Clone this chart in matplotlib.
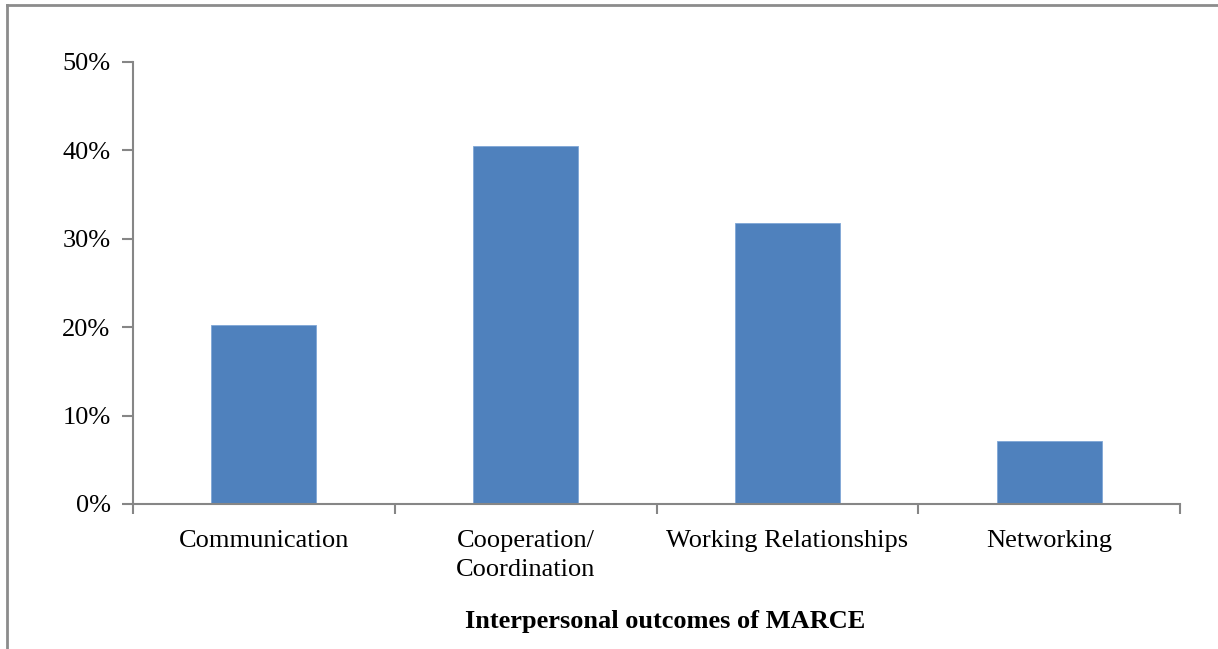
import numpy as np
from matplotlib import pyplot as plt
from matplotlib.lines import Line2D
from matplotlib.ticker import PercentFormatter, FixedLocator

plt.rcParams['font.family'] = ['Liberation Serif', 'DejaVu Serif']

categories = ['Communication', 'Cooperation/\nCoordination', 'Working Relationships', 'Networking']
shares = [20.2, 40.5, 31.8, 7.1]
yticks = [0, 10, 20, 30, 40, 50]

grey = '#868686'
fig = plt.figure(figsize=(12.18, 6.49), dpi=100)
ax = fig.add_axes([0.109, 0.2235, 0.86, 0.681])

x = np.arange(len(categories))
ax.bar(x, shares, width=0.40, color='#4F81BD', edgecolor='#7FA6D6', linewidth=0.6, zorder=2)

ax.set_xlim(-0.5, len(categories) - 0.5)
ax.set_ylim(0, 50)
ax.set_yticks(yticks)
ax.yaxis.set_major_formatter(PercentFormatter(decimals=0))
ax.tick_params(axis='y', labelsize=19, length=8, width=1.5, color=grey, pad=8)

# category labels centred under bars, ticks on the boundaries between them
ax.set_xticks(x)
ax.set_xticklabels(categories, fontsize=19, linespacing=1.4, va='top')
ax.tick_params(axis='x', which='major', length=0, pad=19)
ax.xaxis.set_minor_locator(FixedLocator(np.arange(-0.5, len(categories), 1.0)))
ax.tick_params(axis='x', which='minor', length=7, width=1.5, color=grey)

for side in ['top', 'right']:
    ax.spines[side].set_visible(False)
for side in ['left', 'bottom']:
    ax.spines[side].set_color(grey)
    ax.spines[side].set_linewidth(1.5)

ax.set_xlabel('Interpersonal outcomes of MARCE', fontsize=19, fontweight='bold')
ax.xaxis.set_label_coords(0.508, -0.241)

# outer chart frame
fig.add_artist(Line2D([7 / 1218, 7 / 1218], [0, 1 - 5 / 649], transform=fig.transFigure,
                      color='#8c8c8c', linewidth=2))
fig.add_artist(Line2D([7 / 1218, 1], [1 - 5 / 649, 1 - 5 / 649], transform=fig.transFigure,
                      color='#8c8c8c', linewidth=2))

fig.savefig('out.png', dpi=100)
